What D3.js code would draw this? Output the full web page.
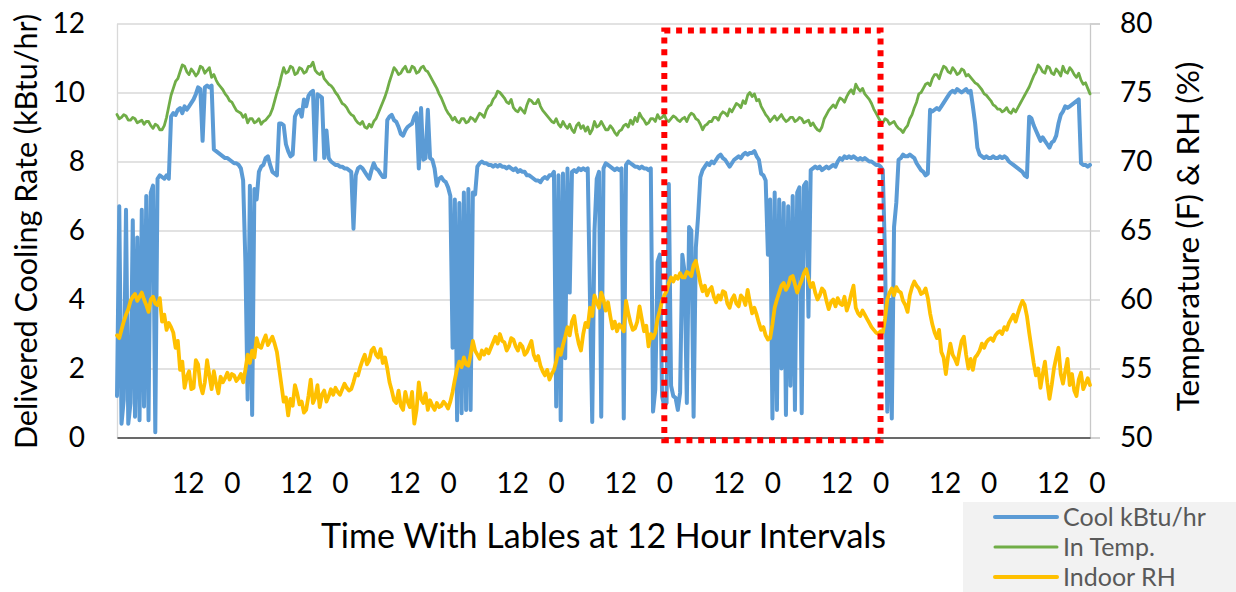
<!DOCTYPE html>
<html>
<head>
<meta charset="utf-8">
<script src="https://cdn.jsdelivr.net/npm/d3@7"></script>
<style>
  body { margin: 0; background: #fff; }
  svg text { font-family: Lato, "Open Sans", "DejaVu Sans", sans-serif; }
</style>
</head>
<body>
<svg id="chart" width="1236" height="592"></svg>
<script>
// ---- data -------------------------------------------------------------
// Time axis in hours; every series starts at the same hour and is sampled
// every half hour.
const startHour = -1.5;
const spanHours = 216;
const sampleStep = 0.5;

// Delivered cooling rate (kBtu/hr)
const coolRate = [
  1.2, 6.7, 0.4, 1.1, 6.6, 0.4, 1.0, 6.3, 0.6, 5.8,
  0.5, 6.6, 0.9, 7.0, 0.5, 7.1, 7.3, 0.15, 7.5, 7.6,
  7.55, 7.5, 7.6, 7.5, 9.3, 9.4, 9.35, 9.5, 9.55, 9.4,
  9.6, 9.5, 9.6, 9.7, 9.8, 9.95, 10.15, 10.1, 8.6, 10.15,
  10.2, 10.15, 10.2, 8.35, 8.3, 8.25, 8.2, 8.15, 8.1, 8.1,
  8.05, 8.0, 7.95, 7.95, 7.9, 7.8, 7.45, 5.1, 1.1, 7.3,
  0.65, 7.2, 6.9, 7.7, 7.85, 7.9, 8.1, 8.15, 7.9, 7.7,
  7.65, 7.6, 9.1, 9.1, 9.05, 8.5, 8.3, 8.15, 8.2, 9.3,
  9.45, 9.5, 9.3, 9.8, 9.6, 9.9, 10.0, 10.05, 8.05, 9.95,
  9.9, 9.85, 8.1, 8.9, 8.1, 8.0, 7.95, 7.9, 7.9, 7.85,
  7.85, 7.8, 7.8, 7.75, 7.7, 6.05, 7.6, 7.8, 7.85, 7.8,
  7.7, 7.6, 7.5, 7.75, 7.95, 7.8, 7.75, 7.65, 7.55, 7.55,
  9.2, 9.3, 9.35, 9.2, 9.15, 9.0, 8.8, 8.75, 8.9, 9.0,
  9.05, 9.1, 9.3, 9.4, 7.8, 9.55, 8.05, 8.1, 9.5, 8.1,
  8.05, 7.8, 7.3, 7.5, 7.55, 7.45, 7.4, 7.25, 7.0, 2.6,
  6.9, 0.5, 6.8, 0.7, 7.1, 0.8, 7.2, 0.8, 7.1, 7.05,
  7.85, 7.95, 8.0, 7.95, 7.95, 7.9, 7.9, 7.85, 7.9, 7.85,
  7.9, 7.85, 7.85, 7.8, 7.85, 7.8, 7.75, 7.8, 7.7, 7.75,
  7.7, 7.7, 7.6, 7.6, 7.55, 7.5, 7.45, 7.45, 7.4, 7.5,
  7.55, 7.5, 7.6, 7.6, 7.7, 0.9, 7.6, 0.5, 7.65, 2.3,
  7.8, 4.2, 7.7, 7.75, 7.7, 7.8, 7.75, 7.8, 7.75, 7.8,
  4.0, 0.45, 6.0, 7.5, 7.7, 0.6, 7.8, 7.95, 7.9, 7.85,
  7.8, 7.75, 7.8, 7.75, 7.8, 0.55, 7.9, 8.0, 7.95, 7.9,
  7.85, 7.85, 7.8, 7.85, 7.8, 7.8, 7.75, 7.8, 0.75, 1.4,
  5.1, 5.3, 1.2, 0.9, 1.0, 7.35, 1.5, 1.2, 1.15, 0.8,
  1.3, 5.3, 4.8, 1.0, 6.1, 6.0, 0.6, 5.5, 6.4, 7.55,
  7.75, 7.85, 7.95, 7.9, 8.0, 7.95, 8.05, 8.15, 8.2, 8.1,
  8.05, 7.95, 7.85, 7.95, 8.05, 8.1, 8.15, 8.1, 8.2, 8.25,
  8.2, 8.25, 8.25, 8.3, 8.15, 8.05, 7.65, 7.6, 7.45, 5.3,
  6.9, 0.55, 7.1, 0.8, 6.9, 2.0, 6.8, 0.65, 6.7, 1.5,
  7.0, 0.8, 7.1, 7.25, 0.7, 7.3, 7.4, 3.5, 7.75, 7.8,
  7.85, 7.8, 7.85, 7.75, 7.8, 7.85, 7.8, 7.85, 7.9, 7.85,
  8.0, 8.1, 8.05, 8.15, 8.1, 8.15, 8.1, 8.15, 8.1, 8.05,
  8.1, 8.05, 8.1, 8.05, 8.0, 8.0, 7.95, 7.9, 7.9, 7.85,
  7.75, 5.2, 0.75, 4.0, 0.55, 6.1, 6.8, 8.05, 8.1, 8.2,
  8.15, 8.15, 8.2, 8.15, 8.1, 7.95, 7.85, 7.75, 7.7, 7.6,
  7.65, 9.5, 9.45, 9.5, 9.55, 9.5, 9.6, 9.7, 9.8, 9.9,
  10.0, 10.05, 10.0, 10.1, 10.05, 10.0, 10.05, 10.1, 10.0, 10.05,
  9.6, 9.1, 8.4, 8.2, 8.15, 8.1, 8.15, 8.1, 8.1, 8.15,
  8.1, 8.1, 8.15, 8.1, 8.15, 8.1, 8.0, 7.95, 7.9, 7.85,
  7.8, 7.75, 7.7, 7.6, 7.55, 9.3, 9.25, 9.05, 8.9, 8.75,
  8.6, 8.7, 8.6, 8.5, 8.4, 8.55, 8.6, 8.75, 9.1, 9.35,
  9.45, 9.6, 9.55, 9.6, 9.65, 9.7, 9.75, 9.8, 7.95, 7.9,
  7.9, 7.85, 7.9
];

// Indoor temperature (F)
const inTemp = [
  73.4, 73.1, 73.2, 73.4, 73.3, 73.0, 73.0, 73.2, 73.1, 72.8,
  72.9, 73.0, 72.7, 72.9, 72.9, 72.6, 72.4, 72.7, 72.6, 72.3,
  72.3, 72.6, 73.2, 74.0, 74.8, 75.3, 75.8, 76.0, 76.5, 77.0,
  76.9, 76.5, 76.3, 76.7, 76.5, 76.2, 76.4, 76.9, 76.8, 76.4,
  76.6, 76.8, 76.1, 76.3, 75.9, 75.6, 75.4, 75.2, 74.9, 74.7,
  74.4, 74.3, 74.0, 73.7, 73.6, 73.5, 73.2, 73.4, 72.8, 73.1,
  73.1, 72.8, 72.9, 73.1, 72.7, 72.9, 73.0, 73.2, 73.4, 73.8,
  74.4, 75.0, 75.5, 76.2, 76.8, 76.4, 76.5, 76.9, 76.8, 76.3,
  76.4, 76.8, 76.7, 76.4, 76.5, 76.9, 76.9, 77.2, 76.6, 76.4,
  76.3, 76.5, 76.0, 75.8, 75.6, 75.5, 75.3, 75.0, 74.8, 74.5,
  74.2, 74.1, 73.9, 73.6, 73.4, 73.3, 73.0, 72.8, 72.7, 72.9,
  72.5, 72.4, 72.7, 72.5, 72.9, 73.1, 73.5, 73.9, 74.3, 74.7,
  75.2, 75.8, 76.3, 76.8, 76.6, 76.3, 76.4, 76.7, 76.9, 76.5,
  76.5, 76.9, 76.8, 76.4, 76.5, 76.8, 76.9, 76.6, 76.5, 76.2,
  75.9, 75.6, 75.3, 74.9, 74.6, 74.2, 73.8, 73.5, 73.3, 73.0,
  73.2, 72.9, 72.8, 73.1, 73.1, 72.8, 72.9, 73.2, 73.1, 72.9,
  73.2, 73.5, 73.4, 73.2, 73.7, 74.0, 74.1, 74.5, 74.7, 75.1,
  75.0, 74.8, 74.6, 74.3, 74.2, 74.5, 73.9, 73.7, 73.6, 73.9,
  73.7, 73.5, 74.1, 74.5, 74.4, 74.2, 74.2, 74.5, 74.0, 73.7,
  73.5, 73.3, 73.1, 72.9, 72.8, 73.1, 72.7, 72.5, 72.9, 72.6,
  72.4, 72.7, 72.3, 72.1, 72.6, 72.8, 72.4, 72.6, 72.2, 72.5,
  72.0, 72.3, 72.9, 72.5, 72.6, 72.9, 72.6, 72.3, 72.3, 72.6,
  72.4, 72.1, 71.9, 72.2, 72.3, 72.6, 72.7, 72.5, 73.0, 72.7,
  73.2, 72.9, 73.5, 73.2, 73.0, 72.7, 72.8, 73.1, 73.1, 72.9,
  73.4, 73.1, 73.2, 73.4, 73.0, 72.9, 73.1, 73.3, 73.2, 73.0,
  72.9, 73.1, 73.2, 72.9, 73.3, 73.5, 73.4, 73.1, 73.0, 72.7,
  72.3, 72.6, 72.7, 72.9, 72.9, 73.2, 73.2, 73.0, 73.4, 73.6,
  73.5, 73.3, 73.8, 73.6, 73.9, 74.2, 74.1, 73.9, 74.4, 74.2,
  74.8, 75.0, 74.7, 74.9, 74.4, 74.5, 74.0, 73.7, 73.4, 73.2,
  72.9, 73.1, 73.3, 73.0, 73.2, 73.4, 73.1, 72.9, 73.0, 73.2,
  73.2, 72.9, 73.0, 73.2, 73.1, 72.8, 72.9, 73.0, 72.6, 72.8,
  72.5, 72.3, 72.2, 72.5, 73.1, 73.4, 73.7, 73.9, 74.1, 73.9,
  74.3, 74.6, 74.5, 74.3, 74.7, 75.0, 75.2, 74.9, 75.6, 75.3,
  75.1, 75.3, 74.9, 74.7, 74.5, 74.2, 73.8, 73.5, 73.2, 72.9,
  72.8, 73.1, 73.0, 72.7, 72.8, 72.9, 72.6, 72.4, 72.3, 72.1,
  72.4, 72.6, 73.1, 73.4, 73.9, 74.3, 74.9, 75.0, 75.3, 75.6,
  75.7, 75.5, 76.0, 76.3, 76.3, 76.0, 76.5, 76.9, 76.8, 76.5,
  76.4, 76.8, 76.6, 76.3, 76.4, 76.7, 76.6, 76.2, 76.3, 76.1,
  75.9, 75.7, 75.6, 75.4, 75.2, 74.9, 74.8, 74.6, 74.4, 74.1,
  74.0, 73.8, 73.8, 73.6, 73.7, 73.9, 73.6, 73.5, 73.8, 73.6,
  73.9, 74.2, 74.5, 74.8, 75.1, 75.4, 75.8, 76.2, 76.5, 77.0,
  76.8, 76.5, 76.4, 76.9, 76.8, 76.4, 76.3, 76.7, 76.5, 76.2,
  76.9, 76.5, 76.4, 76.8, 76.6, 76.3, 76.1, 76.4, 75.9, 75.6,
  75.7, 75.3, 74.9
];

// Indoor relative humidity (%)
const indoorRH = [
  57.4, 57.2, 57.8, 58.4, 58.9, 59.3, 59.9, 60.2, 60.4, 59.9,
  60.2, 60.5, 60.0, 59.6, 59.1, 60.0, 60.2, 59.7, 59.6, 60.1,
  58.4, 58.9, 57.8, 58.3, 58.0, 57.6, 56.5, 57.0, 54.9, 55.5,
  53.6, 54.4, 54.8, 53.5, 53.6, 55.6, 55.3, 53.8, 53.2, 54.0,
  55.6, 54.5, 53.5, 54.8, 53.9, 53.2, 54.4, 54.0, 54.3, 54.7,
  54.2, 54.6, 54.5, 54.1, 54.3, 54.6, 54.0, 54.9, 56.0, 55.4,
  56.3, 55.8, 57.2, 56.6, 56.5, 57.0, 57.4, 56.7, 57.0, 57.3,
  56.8, 56.2, 55.0, 53.8, 52.6, 52.9, 51.6, 52.8, 52.3, 53.8,
  53.2, 52.4, 52.6, 51.8, 52.0, 53.0, 54.2, 52.5, 52.9, 53.8,
  52.2, 53.1, 53.4, 52.6, 53.0, 53.5, 53.1, 53.6, 53.3, 53.1,
  53.5, 53.9, 53.6, 53.4, 53.5, 54.0, 54.6, 54.5, 55.1, 55.6,
  56.0, 55.3, 55.6, 56.3, 56.5, 56.0, 55.8, 56.4, 55.4, 55.8,
  55.0, 54.0, 53.4, 52.7, 52.5, 53.4, 52.3, 52.0, 53.3, 52.6,
  52.2, 53.3, 51.0, 52.0, 54.0, 52.8, 52.5, 53.2, 52.0, 52.7,
  52.3, 52.0, 52.5, 52.2, 52.3, 52.6, 52.4, 52.1, 52.6, 53.3,
  54.2, 55.0, 55.5, 55.1, 55.8, 55.3, 55.2, 56.0, 57.0, 56.3,
  56.0, 55.7, 56.3, 56.0, 56.4, 56.1, 56.5, 56.9, 57.3, 56.8,
  57.5, 57.0, 56.9, 56.3, 56.6, 57.2, 57.1, 56.6, 56.3, 56.8,
  56.6, 56.0, 56.2, 56.6, 57.0, 56.0, 55.6, 55.9, 55.2, 54.8,
  54.5, 54.9, 54.2, 54.6, 54.9, 55.5, 56.4, 56.0, 56.7, 57.3,
  58.0, 57.4, 58.4, 58.8, 57.6, 56.8, 56.3, 57.5, 58.3, 58.0,
  59.4, 58.8, 60.3, 59.8, 59.4, 60.5, 60.0, 59.2, 59.8, 58.8,
  57.9, 58.4, 57.7, 58.2, 58.0, 57.7, 59.9, 59.0, 58.3, 57.8,
  57.9, 58.4, 59.5, 58.6, 57.7, 58.1, 56.6, 57.5, 57.2, 57.6,
  58.6, 59.2, 59.9, 60.3, 60.6, 61.2, 61.6, 61.3, 61.7, 61.5,
  61.9, 61.6, 61.6, 62.0, 61.9, 61.7, 62.5, 62.8, 62.0, 61.2,
  60.6, 61.0, 60.3, 60.7, 60.9, 60.2, 59.8, 60.3, 60.0, 60.6,
  60.5, 59.7, 59.4, 60.0, 60.3, 59.7, 59.5, 60.3, 60.1, 59.6,
  60.7, 59.8, 59.0, 59.4, 58.9, 58.3, 57.8, 58.0, 57.4, 57.1,
  57.2, 58.2, 59.4, 60.0, 60.5, 61.0, 61.2, 60.7, 61.0, 61.6,
  61.7, 61.1, 60.5, 61.0, 61.4, 61.9, 62.2, 61.5, 60.9, 61.2,
  60.5, 60.0, 60.3, 60.8, 60.6, 59.9, 59.3, 59.8, 60.0, 59.5,
  60.1, 59.7, 59.6, 60.2, 59.2, 59.7, 60.4, 61.0, 59.4, 59.0,
  58.8, 59.2, 58.9, 58.6, 58.3, 58.0, 57.8, 57.6, 57.5, 57.7,
  57.6, 58.6, 60.0, 60.5, 60.8, 60.3, 60.9, 60.6, 60.5, 59.9,
  59.6, 59.1, 60.3, 60.9, 61.3, 61.0, 60.8, 60.4, 60.5, 60.8,
  60.1, 59.0, 58.2, 57.6, 57.2, 57.8, 56.2, 55.8, 54.6, 55.9,
  56.8, 56.0, 55.7, 55.3, 56.2, 57.0, 57.3, 56.0, 55.0, 55.7,
  54.9, 55.8, 56.0, 56.3, 56.8, 56.5, 56.9, 57.1, 57.2, 57.0,
  57.4, 57.6, 57.7, 57.5, 58.0, 57.8, 58.3, 58.6, 58.9, 58.4,
  59.0, 59.5, 59.9, 59.6, 58.8, 57.6, 56.5, 55.4, 54.5, 55.0,
  53.6, 54.6, 55.5, 54.0, 52.8, 53.8, 55.0, 55.8, 56.5, 54.6,
  53.9, 54.8, 55.7, 53.8, 54.6, 53.4, 53.0, 54.2, 54.7, 53.5,
  53.9, 54.3, 53.8
];

// Axis ticks and labels
const coolTicks = [0, 2, 4, 6, 8, 10, 12];
const tempTicks = [50, 55, 60, 65, 70, 75, 80];
const timeTickHours = [12, 24, 36, 48, 60, 72, 84, 96, 108, 120, 132, 144, 156, 168, 180, 192, 204, 216];
const timeTickLabels = ["12", "0", "12", "0", "12", "0", "12", "0", "12", "0", "12", "0", "12", "0", "12", "0", "12", "0"];

// Highlighted two-day window (hours) and its vertical extent (kBtu/hr)
const highlightHours = [120, 168];
const highlightRange = [-0.08, 11.8];

const seriesNames = ["Cool kBtu/hr", "In Temp.", "Indoor RH"];
const seriesColors = ["#5B9BD5", "#70AD47", "#FFC000"];

// ---- layout -----------------------------------------------------------
const plot = { left: 117, right: 1090, top: 23.5, bottom: 437.5 };
const svg = d3.select("#chart");
svg.append("rect").attr("width", 1236).attr("height", 592).attr("fill", "#fff");

const x = d3.scaleLinear().domain([startHour, startHour + spanHours]).range([plot.left, plot.right]);
const yCool = d3.scaleLinear().domain([0, 12]).range([plot.bottom, plot.top]);
const yTemp = d3.scaleLinear().domain([50, 80]).range([plot.bottom, plot.top]);

// gridlines
const grid = svg.append("g")
  .attr("transform", `translate(${plot.left},0)`)
  .call(d3.axisLeft(yCool).tickValues(coolTicks).tickSize(-(plot.right - plot.left)).tickFormat(""));
grid.select(".domain").remove();
grid.selectAll("line").attr("stroke", "#d9d9d9").attr("stroke-width", 1.3);

// left axis
const leftAxis = svg.append("g")
  .attr("transform", `translate(${plot.left},0)`)
  .call(d3.axisLeft(yCool).tickValues(coolTicks).tickSize(0).tickPadding(32));
leftAxis.select(".domain").attr("stroke", "#d9d9d9").attr("stroke-width", 1.3);
leftAxis.selectAll("text").attr("font-size", 28).attr("fill", "#000");

// right axis
const rightAxis = svg.append("g")
  .attr("transform", `translate(${plot.right},0)`)
  .call(d3.axisRight(yTemp).tickValues(tempTicks).tickSize(10).tickPadding(20));
rightAxis.select(".domain").attr("stroke", "#c8c8c8").attr("stroke-width", 1.3);
rightAxis.selectAll("line").attr("stroke", "#d0d0d0").attr("stroke-width", 1.3);
rightAxis.selectAll("text").attr("font-size", 28).attr("fill", "#000");

// bottom axis
const bottomAxis = svg.append("g")
  .attr("transform", `translate(0,${plot.bottom})`)
  .call(d3.axisBottom(x).tickValues(timeTickHours).tickSize(0).tickPadding(35.5)
    .tickFormat((d, i) => timeTickLabels[i]));
bottomAxis.select(".domain").attr("stroke", "#404040").attr("stroke-width", 1.6);
bottomAxis.selectAll("text")
  .attr("font-size", 28).attr("fill", "#000")
  .attr("dx", (d, i) => timeTickLabels[i] === "12" ? 10 : 0);

// axis titles
svg.append("text")
  .attr("transform", "translate(37,231.5) rotate(-90)")
  .attr("text-anchor", "middle").attr("font-size", 30.5).attr("fill", "#000")
  .text("Delivered Cooling Rate (kBtu/hr)");
svg.append("text")
  .attr("transform", "translate(1199,236.5) rotate(-90)")
  .attr("text-anchor", "middle").attr("font-size", 31.5).attr("fill", "#000")
  .text("Temperature (F) & RH (%)");
svg.append("text")
  .attr("x", 603.5).attr("y", 548)
  .attr("text-anchor", "middle").attr("font-size", 34).attr("fill", "#000")
  .text("Time With Lables at 12 Hour Intervals");

// ---- series -----------------------------------------------------------
const coolLine = d3.line()
  .x((d, i) => x(startHour + i * sampleStep))
  .y(d => yCool(d));
const climateLine = d3.line()
  .x((d, i) => x(startHour + i * sampleStep))
  .y(d => yTemp(d));

const lines = svg.append("g").attr("fill", "none")
  .attr("stroke-linejoin", "round").attr("stroke-linecap", "round");
lines.append("path").datum(coolRate)
  .attr("d", coolLine).attr("stroke", seriesColors[0]).attr("stroke-width", 4);
lines.append("path").datum(inTemp)
  .attr("d", climateLine).attr("stroke", seriesColors[1]).attr("stroke-width", 2.8);
lines.append("path").datum(indoorRH)
  .attr("d", climateLine).attr("stroke", seriesColors[2]).attr("stroke-width", 3.8);

// highlighted two-day window
svg.append("rect")
  .attr("x", x(highlightHours[0]))
  .attr("y", yCool(highlightRange[1]))
  .attr("width", x(highlightHours[1]) - x(highlightHours[0]))
  .attr("height", yCool(highlightRange[0]) - yCool(highlightRange[1]))
  .attr("fill", "none").attr("stroke", "#FF0000").attr("stroke-width", 6)
  .attr("stroke-dasharray", "6 5.8");

// ---- legend -----------------------------------------------------------
const legend = svg.append("g");
legend.append("rect").attr("x", 963).attr("y", 502).attr("width", 273).attr("height", 90).attr("fill", "#f2f2f2");
const legendWidths = [4, 3, 4];
seriesNames.forEach((name, i) => {
  const ly = 517 + i * 30;
  legend.append("line").attr("x1", 995).attr("x2", 1057).attr("y1", ly).attr("y2", ly)
    .attr("stroke", seriesColors[i]).attr("stroke-width", legendWidths[i]).attr("stroke-linecap", "round");
  legend.append("text").attr("x", 1063).attr("y", ly).attr("dy", "0.36em")
    .attr("font-size", 25).attr("fill", "#595959").text(name);
});
</script>
</body>
</html>
